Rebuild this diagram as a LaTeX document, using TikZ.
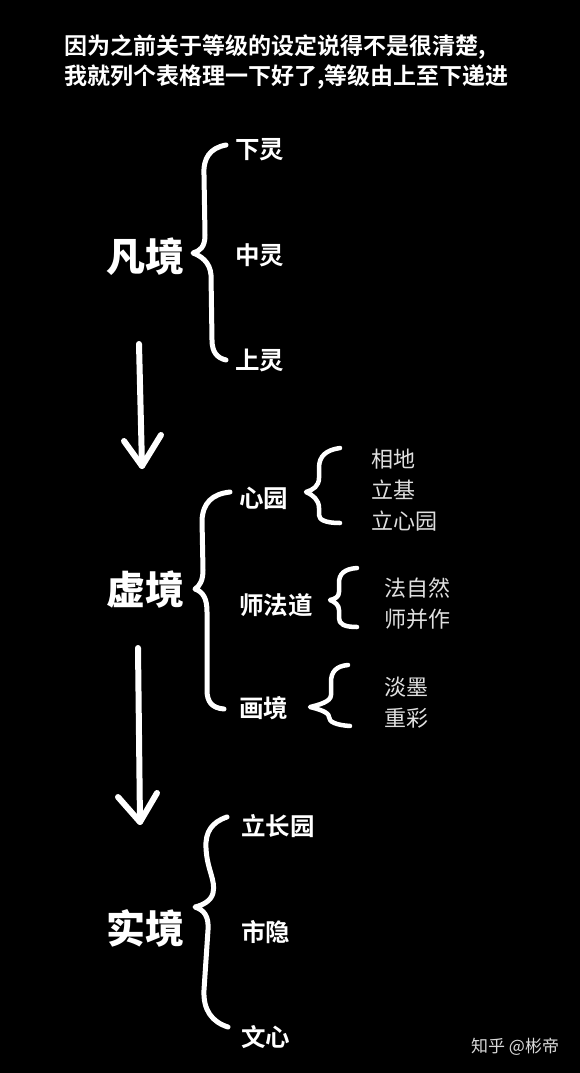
\documentclass[tikz,border=0pt]{standalone}
\usepackage{fontspec}
\newfontfamily\cjk{Noto Sans CJK SC}[BoldFont={Noto Sans CJK SC Bold}]
\newfontfamily\cjkheavy{Noto Sans CJK SC Black}
\begin{document}
\begin{tikzpicture}[x=1pt,y=-1pt,
  txt/.style={inner sep=0pt,anchor=west,text=white,font=\cjk\bfseries},
  title/.style={txt,font=\cjk\bfseries\fontsize{23}{23}\selectfont},
  realm/.style={txt,font=\cjkheavy\fontsize{39}{39}\selectfont},
  level/.style={txt,font=\cjk\bfseries\fontsize{24.5}{24.5}\selectfont},
  sub/.style={txt,text=white!88!black,font=\cjk\fontsize{22}{22}\selectfont},
  wmark/.style={txt,text=white!85!black,font=\cjk\fontsize{17}{17}\selectfont},
  brace/.style={draw=white,line width=5pt,line cap=round,line join=round},
  sbrace/.style={draw=white,line width=4.5pt,line cap=round,line join=round},
  flow/.style={draw=white,line width=6pt,line cap=round,line join=round}]
\fill[black] (0,0) rectangle (580,1073);
\useasboundingbox (0,0) rectangle (580,1073);

% title
\node[title] (t1) at (64,47) {因为之前关于等级的设定说得不是很清楚,};
\node[title] (t2) at (64,77) {我就列个表格理一下好了,等级由上至下递进};

% realms
\node[realm] (fan) at (106,257) {凡境};
\node[realm] (xu) at (106,590) {虚境};
\node[realm] (shi) at (106,928) {实境};

% levels of 凡境
\node[level] (xialing) at (235,150) {下灵};
\node[level] (zhongling) at (235,255) {中灵};
\node[level] (shangling) at (235,360) {上灵};

% levels of 虚境
\node[level] (xinyuan) at (239,498) {心园};
\node[level] (shifadao) at (239,605) {师法道};
\node[level] (huajing) at (239,708) {画境};

% sub levels
\node[sub] (xiangdi) at (371,459) {相地};
\node[sub] (liji) at (371,490) {立基};
\node[sub] (lixinyuan) at (371,521) {立心园};
\node[sub] (fa) at (384,588) {法自然};
\node[sub] (shibing) at (384,619) {师并作};
\node[sub] (danmo) at (384,687) {淡墨};
\node[sub] (zhongcai) at (384,718) {重彩};

% levels of 实境
\node[level] (lichang) at (241,826) {立长园};
\node[level] (shiyin) at (241,932) {市隐};
\node[level] (wenxin) at (241,1037) {文心};

% watermark
\node[wmark] (wm) at (471,1047) {知乎\ @彬帝};

% braces
\draw[brace] (226,145) .. controls (210,148) and (203,158) .. (204,175)
  -- (205,235) .. controls (205,247) and (200,251) .. (193,253)
  .. controls (201,256) and (210,262) .. (211,275)
  -- (212,340) .. controls (212,352) and (217,358) .. (226,360);
\draw[brace] (230,492) .. controls (212,494) and (203,503) .. (202,520)
  -- (203,570) .. controls (203,580) and (200,586) .. (195,589)
  .. controls (203,592) and (207,598) .. (207,612)
  -- (207,690) .. controls (207,702) and (212,708) .. (224,709);
\draw[brace] (227,817) .. controls (212,822) and (205,832) .. (206,848)
  .. controls (207,870) and (216,880) .. (213,893)
  .. controls (211,901) and (203,905) .. (195,907)
  .. controls (204,910) and (209,916) .. (208,930)
  -- (204,990) .. controls (203,1010) and (212,1022) .. (228,1027);
\draw[sbrace] (340,448) .. controls (326,450) and (319,456) .. (319,468)
  -- (319,478) .. controls (319,486) and (313,490) .. (306,492)
  .. controls (313,495) and (319,500) .. (319,508)
  -- (319,515) .. controls (319,520) and (326,523) .. (340,523);
\draw[sbrace] (357,568) .. controls (344,569) and (339,574) .. (339,583)
  -- (339,592) .. controls (339,597) and (335,599) .. (330,600)
  .. controls (335,602) and (339,605) .. (339,610)
  -- (339,618) .. controls (339,624) and (344,627) .. (357,627);
\draw[sbrace] (348,665) .. controls (336,666) and (331,672) .. (331,682)
  -- (331,695) .. controls (331,702) and (318,705) .. (310,707)
  .. controls (318,709) and (329,712) .. (329,717)
  .. controls (329,722) and (336,725) .. (350,726);

% arrows
\coordinate (a1s) at (139,344);
\coordinate (a1e) at (142,466);
\coordinate (a1l) at (124,441);
\coordinate (a1r) at (161,435);
\draw[flow] (a1s) -- (a1e);
\draw[flow] (a1l) -- (a1e) -- (a1r);
\coordinate (a2s) at (138,648);
\coordinate (a2e) at (140,822);
\coordinate (a2l) at (118,797);
\coordinate (a2r) at (157,793);
\draw[flow] (a2s) -- (a2e);
\draw[flow] (a2l) -- (a2e) -- (a2r);
\end{tikzpicture}
\end{document}
